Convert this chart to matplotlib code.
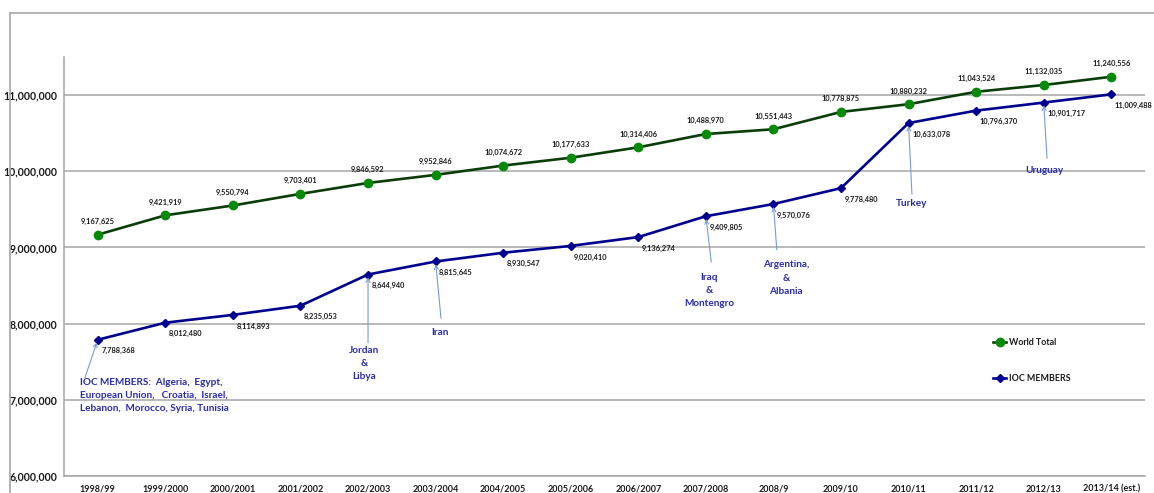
import matplotlib
matplotlib.use("Agg")
import matplotlib.pyplot as plt
from matplotlib.lines import Line2D

plt.rcParams['font.family'] = ['Lato', 'DejaVu Sans']

seasons = ["1998/99", "1999/2000", "2000/2001", "2001/2002", "2002/2003", "2003/2004",
           "2004/2005", "2005/2006", "2006/2007", "2007/2008", "2008/9", "2009/10",
           "2010/11", "2011/12", "2012/13", "2013/14 (est.)"]
world_total = [9167625, 9421919, 9550794, 9703401, 9846592, 9952846, 10074672, 10177633,
               10314406, 10488970, 10551443, 10778875, 10880232, 11043524, 11132035, 11240556]
ioc_members = [7788368, 8012480, 8114893, 8235053, 8644940, 8815645, 8930547, 9020410,
               9136274, 9409805, 9570076, 9778480, 10633078, 10796370, 10901717, 11009488]

notes = [
    ("IOC MEMBERS:  Algeria,  Egypt,\nEuropean Union,   Croatia,  Israel,\nLebanon,  Morocco, Syria, Tunisia", 0),
    ("Jordan\n&\nLibya", 4),
    ("Iran", 5),
    ("Iraq\n&\nMontengro", 9),
    ("Argentina,\n&\nAlbania", 10),
    ("Turkey", 12),
    ("Uruguay", 14),
]
note_text_pos = [(-0.27, 7.29e6, 'left'), (3.94, 7.71e6, 'center'), (5.07, 7.94e6, 'center'),
                 (9.05, 8.67e6, 'center'), (10.19, 8.83e6, 'center'), (12.05, 9.64e6, 'center'),
                 (14.01, 10.07e6, 'center')]
note_tail = [(-0.19, 7.29e6), (4.0, 7.75e6), (5.08, 8.07e6), (9.08, 8.81e6),
             (10.05, 8.97e6), (12.05, 9.70e6), (14.05, 10.17e6)]

W, H = 1154, 493
fig = plt.figure(figsize=(W / 100, H / 100), dpi=100)
ax = fig.add_axes([64 / W, 1 - 476 / H, (1145 - 64) / W, (476 - 57) / H])

grid_c = '#a6a6a6'
fig.add_artist(Line2D([10 / W, 1.0], [1 - 13 / H, 1 - 13 / H], color=grid_c, lw=1.2, transform=fig.transFigure))
fig.add_artist(Line2D([10 / W, 10 / W], [1 - 13 / H, 0], color=grid_c, lw=1.2, transform=fig.transFigure))

x = list(range(len(seasons)))
green_line = '#0b3d0b'
green_mk = '#078a07'
blue = '#00008f'

ax.plot(x, world_total, color=green_line, lw=1.9, marker='o', markersize=6,
        markerfacecolor=green_mk, markeredgecolor=green_mk, label='World Total', zorder=3)
ax.plot(x, ioc_members, color=blue, lw=1.9, marker='D', markersize=3.6,
        markerfacecolor=blue, markeredgecolor=blue, label='IOC MEMBERS', zorder=3)

lbl_kw = dict(fontsize=5.4, fontweight='bold', color='#1a1a1a', textcoords='offset points')
for xi, v in zip(x, world_total):
    ax.annotate(f"{v:,}", (xi, v), xytext=(0, 9.5), ha='center', va='center', **lbl_kw)
for xi, v in zip(x, ioc_members):
    ax.annotate(f"{v:,}", (xi, v), xytext=(2.5, -8), ha='left', va='center', **lbl_kw)

note_c = '#2b2ba8'
arrow_c = '#7a9bd1'
for (txt, idx), (tx, ty, ha), (ax_, ay) in zip(notes, note_text_pos, note_tail):
    ax.text(tx, ty, txt, ha=ha, va='top', fontsize=7.2, fontweight='bold', color=note_c,
            linespacing=1.6, multialignment=ha)
    ax.annotate("", xy=(idx, ioc_members[idx]), xytext=(ax_, ay),
                arrowprops=dict(arrowstyle='->', color=arrow_c, lw=0.8,
                                shrinkA=0, shrinkB=2, mutation_scale=7))

ax.set_xlim(-0.5, len(seasons) - 0.5)
ax.set_ylim(6e6, 11.5e6)
ax.set_yticks([6e6, 7e6, 8e6, 9e6, 10e6, 11e6])
ax.set_yticklabels([f"{int(v):,}" for v in ax.get_yticks()])
ax.set_xticks(x)
ax.set_xticklabels(seasons)
ax.tick_params(axis='both', length=0, colors='#1a1a1a')
ax.tick_params(axis='x', pad=6, labelsize=6.5)
ax.tick_params(axis='y', pad=5, labelsize=7.6)
for lab in ax.get_xticklabels() + ax.get_yticklabels():
    lab.set_fontweight('bold')
ax.grid(axis='y', color=grid_c, lw=1.1)
ax.set_axisbelow(True)
for s in ['top', 'right']:
    ax.spines[s].set_visible(False)
for s in ['left', 'bottom']:
    ax.spines[s].set_color(grid_c)
    ax.spines[s].set_linewidth(1.1)

leg = fig.legend(loc='center left', bbox_to_anchor=(993 / W, 1 - 360.5 / H),
                 frameon=False, fontsize=6.4, handlelength=1.5, handletextpad=0.3,
                 labelspacing=3.0, borderpad=0, borderaxespad=0)
for t in leg.get_texts():
    t.set_fontweight('bold')
    t.set_color('#1a1a1a')

fig.savefig('out.png', dpi=100)
